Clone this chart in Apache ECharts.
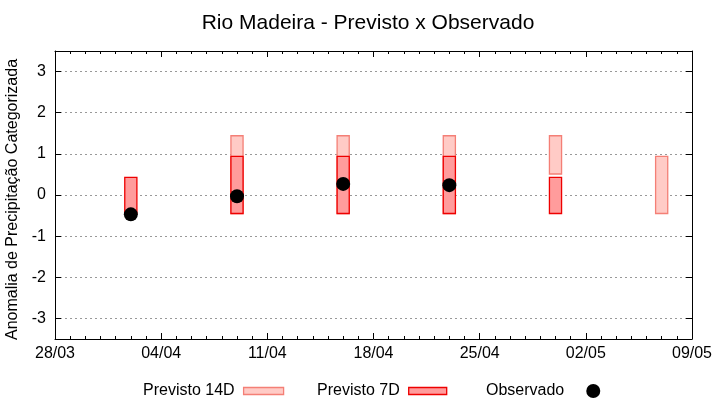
<!DOCTYPE html>
<html><head><meta charset="utf-8">
<script src="https://cdn.jsdelivr.net/npm/echarts@6/dist/echarts.min.js"></script>
<style>html,body{margin:0;padding:0;background:#fff}#c{width:720px;height:400px}</style>
</head><body><div id="c"></div>
<script>
// ---- data ----
const startDate = '28/03';
const xTickLabels = ['28/03','04/04','11/04','18/04','25/04','02/05','09/05'];
const yTickValues = [-3,-2,-1,0,1,2,3];
const dates      = ['02/04','09/04','16/04','23/04','30/04','07/05'];
const prev14Low  = [null, -0.45, -0.45, -0.45, 0.51, -0.45];
const prev14High = [null,  1.44,  1.44,  1.44, 1.44,  0.94];
const prev7Low   = [-0.45, -0.45, -0.45, -0.45, -0.45, null];
const prev7High  = [ 0.43,  0.94,  0.94,  0.94,  0.43, null];
const observed   = [-0.47, -0.03,  0.27,  0.24, null, null];

function dayOffset(s){
  const [d,m] = s.split('/').map(Number);
  const [d0,m0] = startDate.split('/').map(Number);
  return Math.round((Date.UTC(2024,m-1,d)-Date.UTC(2024,m0-1,d0))/86400000);
}
const xs = dates.map(dayOffset);
const rangeData = (lo,hi)=>xs.map((x,i)=>lo[i]==null?null:[x,lo[i],hi[i]]).filter(Boolean);
const obsData = xs.map((x,i)=>observed[i]==null?null:[x,observed[i]]).filter(Boolean);

const C14 = {fill:'#ffcbc6', stroke:'#f47f76'};
const C7  = {fill:'#ff9c9c', stroke:'#ee0000'};
const BAR_W = 0.8;

function rangeRenderer(col){
  return function(params, api){
    const x = api.value(0), lo = api.value(1), hi = api.value(2);
    const p1 = api.coord([x, hi]), p2 = api.coord([x, lo]);
    const w = api.size([BAR_W, 0])[0];
    return {type:'rect', shape:{x:p1[0]-w/2, y:p1[1], width:w, height:p2[1]-p1[1]},
      style:{fill:col.fill, stroke:col.stroke, lineWidth:1.3}};
  };
}

const FONT = 'Liberation Sans, Arial, sans-serif';
const chart = echarts.init(document.getElementById('c'), null, {renderer:'canvas'});
const xBase = {
  type:'value', min:0, max:42, interval:7,
  axisLine:{show:true, onZero:false, lineStyle:{color:'#000', width:1}},
  axisTick:{show:true, inside:true, length:6, lineStyle:{color:'#000'}},
  minorTick:{show:true, splitNumber:7, length:3, lineStyle:{color:'#000'}},
  splitLine:{show:false}, minorSplitLine:{show:false}
};
const yBase = {
  type:'value', min:-3.5, max:3.5, splitNumber:7,
  axisLine:{show:true, onZero:false, lineStyle:{color:'#000', width:1}},
  axisTick:{show:true, inside:true, length:6, lineStyle:{color:'#000'}},
};
const legText = {fontFamily:FONT, fontSize:16, color:'#000'};
chart.setOption({
  animation:false,
  backgroundColor:'#fff',
  title:{text:'Rio Madeira - Previsto x Observado', left:363, top:8, textAlign:'center',
    textStyle:{fontFamily:FONT, fontSize:21, fontWeight:'normal', color:'#000'}},
  grid:{left:55, right:28, top:51, bottom:61, containLabel:false, outerBoundsMode:'none'},
  xAxis:[
    Object.assign({}, xBase, {position:'bottom',
      axisLabel:{show:true, margin:7, fontFamily:FONT, fontSize:16, color:'#000',
        formatter:v=>xTickLabels[Math.round(v/7)]}}),
    Object.assign({}, xBase, {position:'top', axisLabel:{show:false}})
  ],
  yAxis:[
    Object.assign({}, yBase, {position:'left',
      name:'Anomalia de Precipitação Categorizada', nameLocation:'middle', nameGap:6,
      nameTextStyle:{fontFamily:FONT, fontSize:16, color:'#000', padding:[10,9,0,0]},
      axisLabel:{show:true, margin:9, fontFamily:FONT, fontSize:16, color:'#000',
        showMinLabel:false, showMaxLabel:false,
        formatter:v=>yTickValues.includes(v)?String(v):''},
      splitLine:{show:true, lineStyle:{color:'#999', type:[2,3], width:1}}}),
    Object.assign({}, yBase, {position:'right', axisLabel:{show:false}, splitLine:{show:false}})
  ],
  legend:[
    {left:138, top:378, align:'right', itemWidth:40, itemHeight:7, itemGap:0,
      textStyle:Object.assign({padding:[0,4,0,0]}, legText),
      data:[{name:'Previsto 14D', icon:'rect', itemStyle:{color:C14.fill, borderColor:C14.stroke, borderWidth:1.3, opacity:1}}]},
    {left:312, top:378, align:'right', itemWidth:38, itemHeight:7, itemGap:0,
      textStyle:Object.assign({padding:[0,4,0,0]}, legText),
      data:[{name:'Previsto 7D', icon:'rect', itemStyle:{color:C7.fill, borderColor:C7.stroke, borderWidth:1.3, opacity:1}}]},
    {left:481, top:378, align:'right', itemWidth:14, itemHeight:14, itemGap:0,
      textStyle:Object.assign({padding:[0,17,0,0]}, legText),
      data:[{name:'Observado', icon:'circle', itemStyle:{color:'#000', opacity:1}}]}
  ],
  series:[
    {name:'Previsto 14D', type:'custom', renderItem:rangeRenderer(C14), data:rangeData(prev14Low,prev14High),
      itemStyle:{color:C14.fill, borderColor:C14.stroke}, encode:{x:0, y:[1,2]}, z:2},
    {name:'Previsto 7D', type:'custom', renderItem:rangeRenderer(C7), data:rangeData(prev7Low,prev7High),
      itemStyle:{color:C7.fill, borderColor:C7.stroke}, encode:{x:0, y:[1,2]}, z:3},
    {name:'Observado', type:'scatter', data:obsData, symbol:'circle', symbolSize:14,
      itemStyle:{color:'#000', opacity:1}, z:4}
  ]
});
</script></body></html>
